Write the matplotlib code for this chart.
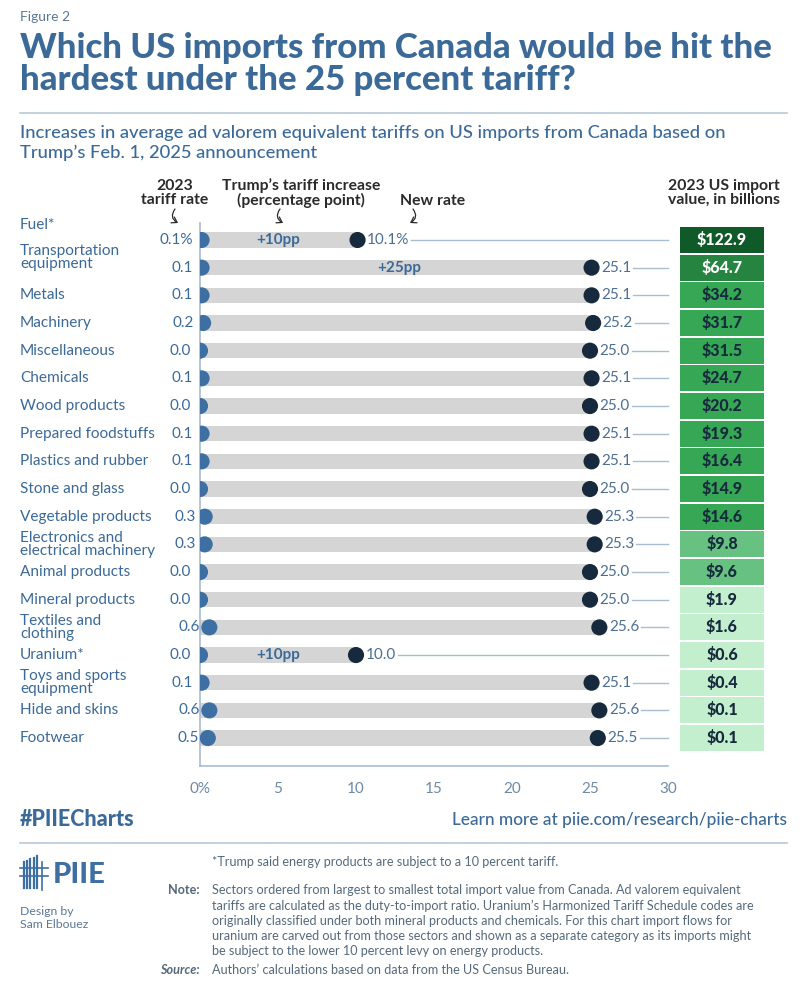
import matplotlib
matplotlib.use("Agg")
import matplotlib.pyplot as plt
from matplotlib.patches import FancyArrowPatch

plt.rcParams['font.family'] = ['Lato', 'DejaVu Sans']

categories = ["Fuel*", "Transportation\nequipment", "Metals", "Machinery", "Miscellaneous",
              "Chemicals", "Wood products", "Prepared foodstuffs", "Plastics and rubber",
              "Stone and glass", "Vegetable products", "Electronics and\nelectrical machinery",
              "Animal products", "Mineral products", "Textiles and\nclothing", "Uranium*",
              "Toys and sports\nequipment", "Hide and skins", "Footwear"]
rate_2023 = [0.1, 0.1, 0.1, 0.2, 0.0, 0.1, 0.0, 0.1, 0.1, 0.0, 0.3, 0.3, 0.0, 0.0, 0.6, 0.0, 0.1, 0.6, 0.5]
new_rate = [10.1, 25.1, 25.1, 25.2, 25.0, 25.1, 25.0, 25.1, 25.1, 25.0, 25.3, 25.3, 25.0, 25.0, 25.6, 10.0, 25.1, 25.6, 25.5]
import_value = [122.9, 64.7, 34.2, 31.7, 31.5, 24.7, 20.2, 19.3, 16.4, 14.9, 14.6, 9.8, 9.6, 1.9, 1.6, 0.6, 0.4, 0.1, 0.1]
xticks = [0, 5, 10, 15, 20, 25, 30]
xtick_labels = ["0%", "5", "10", "15", "20", "25", "30"]
pp_labels = {0: ("+10pp", 5.0), 1: ("+25pp", 12.8), 15: ("+10pp", 5.0)}
label_shift = {0: -0.55, 1: -0.36}

BLUE = "#3b6a98"
DOT = "#3d6fa3"
DARK = "#172a3d"
GRAY = "#d5d5d5"
LINE = "#a8bdd0"

W, H = 807, 1000
fig = plt.figure(figsize=(W / 100, H / 100), dpi=100)

def fx(px):
    return px / W

def fy(py):
    return 1 - py / H

x0, x1 = 200, 668
row0, step = 240, 27.67
ytop, ybot = -0.6, 19.0
ax = fig.add_axes([fx(x0), fy(row0 + ybot * step), fx(x1) - fx(x0), (ybot - ytop) * step / H])
ax.set_xlim(0, 30)
ax.set_ylim(ybot, ytop)
for s in ["top", "right"]:
    ax.spines[s].set_visible(False)
for s in ["left", "bottom"]:
    ax.spines[s].set_color(LINE)
    ax.spines[s].set_linewidth(1.2)
ax.set_yticks([])
ax.set_xticks(xticks)
ax.set_xticklabels(xtick_labels, color="#6d8aa6", fontsize=11)
ax.tick_params(axis="x", length=0, pad=12)

px_per_unit = (x1 - x0) / 30.0
off = 9 / px_per_unit

end_texts = []
for i, (a, b) in enumerate(zip(rate_2023, new_rate)):
    ax.barh(i, b, height=0.55, color=GRAY, zorder=1)
    ax.scatter([a], [i], s=135, color=DOT, zorder=3, edgecolors="none")
    ax.scatter([b], [i], s=135, color=DARK, zorder=3, edgecolors="none")
    start_txt = f"{a:.1f}%" if i == 0 else f"{a:.1f}"
    ax.text(a - off, i, start_txt, ha="right", va="center", color=BLUE, fontsize=11, zorder=4)
    end_txt = f"{b:.1f}%" if i == 0 else f"{b:.1f}"
    t = ax.text(b + off * 1.05, i, end_txt, ha="left", va="center", color="#4d6f92", fontsize=11, zorder=4)
    end_texts.append(t)
    fig.text(fx(20), fy(row0 + (i + label_shift.get(i, 0)) * step), categories[i],
             ha="left", va="center", color=BLUE, fontsize=11.1, linespacing=0.92)

for i, (lbl, xp) in pp_labels.items():
    ax.text(xp, i, lbl, ha="center", va="center", color=BLUE, fontsize=11, fontweight="bold", zorder=4)

fig.canvas.draw()
renderer = fig.canvas.get_renderer()
inv = ax.transData.inverted()
for i, t in enumerate(end_texts):
    bb = t.get_window_extent(renderer)
    xd = inv.transform((bb.x1 + 2, bb.y0))[0]
    ax.plot([xd, 30], [i, i], color=LINE, lw=1, zorder=2, clip_on=False)

# import value table
tax = fig.add_axes([fx(680), fy(row0 + ybot * step), fx(764) - fx(680), (ybot - ytop) * step / H])
tax.set_xlim(0, 1)
tax.set_ylim(ybot, ytop)
tax.axis("off")

def cell_color(v):
    if v > 100:
        return "#0f5a28", "white"
    if v > 50:
        return "#25843f", "white"
    if v > 10:
        return "#36a755", DARK
    if v > 5:
        return "#67c281", DARK
    return "#c4efcf", DARK

for i, v in enumerate(import_value):
    fc, tc = cell_color(v)
    tax.barh(i, 1, height=0.94, left=0, color=fc)
    tax.text(0.5, i, f"${v:.1f}", ha="center", va="center", color=tc, fontsize=11.5, fontweight="black")

# header annotations
HC = "#2a2a2a"
hfs = 11.3
fig.text(fx(175), fy(193), "2023\ntariff rate", ha="center", va="center", fontsize=hfs, color=HC,
         fontweight="bold", linespacing=1.0)
fig.text(fx(301), fy(193), "Trump\u2019s tariff increase\n(percentage point)", ha="center", va="center",
         fontsize=hfs, color=HC, fontweight="bold", linespacing=1.0)
fig.text(fx(433), fy(201), "New rate", ha="center", va="center", fontsize=hfs, color=HC, fontweight="bold")
fig.text(fx(724), fy(193), "2023 US import\nvalue, in billions", ha="center", va="center", fontsize=hfs,
         color=HC, fontweight="bold", linespacing=1.0)
for xa, xb, rad in [(175, 178, 0.55), (280, 283, 0.55), (413, 410, -0.55)]:
    fig.add_artist(FancyArrowPatch(
        (fx(xa), fy(209)), (fx(xb), fy(223)), transform=fig.transFigure,
        connectionstyle=f"arc3,rad={rad}", arrowstyle="->,head_length=0.45,head_width=0.3",
        color=HC, lw=0.9, mutation_scale=8, shrinkA=0, shrinkB=0))

# titles
fig.text(fx(20), fy(17), "Figure 2", ha="left", va="center", fontsize=10, color="#5b7896")
fig.text(fx(20), fy(48), "Which US imports from Canada would be hit the", ha="left", va="center",
         fontsize=25, color=BLUE, fontweight="black")
fig.text(fx(20), fy(80), "hardest under the 25 percent tariff?", ha="left", va="center",
         fontsize=25, color=BLUE, fontweight="black")
fig.add_artist(plt.Line2D([fx(20), fx(787)], [fy(113), fy(113)], color="#b9c9d8", lw=1.2))
fig.text(fx(20), fy(133), "Increases in average ad valorem equivalent tariffs on US imports from Canada based on",
         ha="left", va="center", fontsize=13.2, color=BLUE, fontweight="medium")
fig.text(fx(20), fy(153), "Trump\u2019s Feb. 1, 2025 announcement", ha="left", va="center", fontsize=13.2,
         color=BLUE, fontweight="medium")

# footer
fig.text(fx(20), fy(820), "#PIIECharts", ha="left", va="center", fontsize=15.5, color=BLUE, fontweight="black")
fig.text(fx(787), fy(820), "Learn more at piie.com/research/piie-charts", ha="right", va="center",
         fontsize=12.4, color=BLUE, fontweight="medium")
fig.add_artist(plt.Line2D([fx(20), fx(787)], [fy(843), fy(843)], color="#b9c9d8", lw=1.2))

# logo
for k in range(5):
    xx = 24 + k * 3.2
    fig.add_artist(plt.Line2D([fx(xx), fx(xx)], [fy(862 - k * 1.5), fy(888)], color=DOT, lw=1.6))
for yy in (868, 876):
    fig.add_artist(plt.Line2D([fx(20), fx(48)], [fy(yy), fy(yy)], color=DOT, lw=1.2))
fig.add_artist(plt.Line2D([fx(42), fx(42)], [fy(862), fy(890)], color=DOT, lw=1.2))
fig.text(fx(53), fy(875), "PIIE", ha="left", va="center", fontsize=21, color=DOT, fontweight="black")
fig.text(fx(20), fy(918), "Design by\nSam Elbouez", ha="left", va="center", fontsize=8.8, color="#5b7896",
         linespacing=1.3)

NT = "#55697d"
fs = 9.1
fig.text(fx(212), fy(862), "*Trump said energy products are subject to a 10 percent tariff.", ha="left",
         va="center", fontsize=fs, color=NT)
fig.text(fx(200), fy(890), "Note:", ha="right", va="center", fontsize=fs, color=NT, fontweight="bold")
note_lines = [
    "Sectors ordered from largest to smallest total import value from Canada. Ad valorem equivalent",
    "tariffs are calculated as the duty-to-import ratio. Uranium\u2019s Harmonized Tariff Schedule codes are",
    "originally classified under both mineral products and chemicals. For this chart import flows for",
    "uranium are carved out from those sectors and shown as a separate category as its imports might",
    "be subject to the lower 10 percent levy on energy products.",
]
for k, line in enumerate(note_lines):
    fig.text(fx(212), fy(890 + k * 15.3), line, ha="left", va="center", fontsize=fs, color=NT)
fig.text(fx(200), fy(970), "Source:", ha="right", va="center", fontsize=fs, color=NT, fontweight="bold",
         style="italic")
fig.text(fx(212), fy(970), "Authors\u2019 calculations based on data from the US Census Bureau.", ha="left",
         va="center", fontsize=fs, color=NT)

fig.savefig("out.png", dpi=100)
